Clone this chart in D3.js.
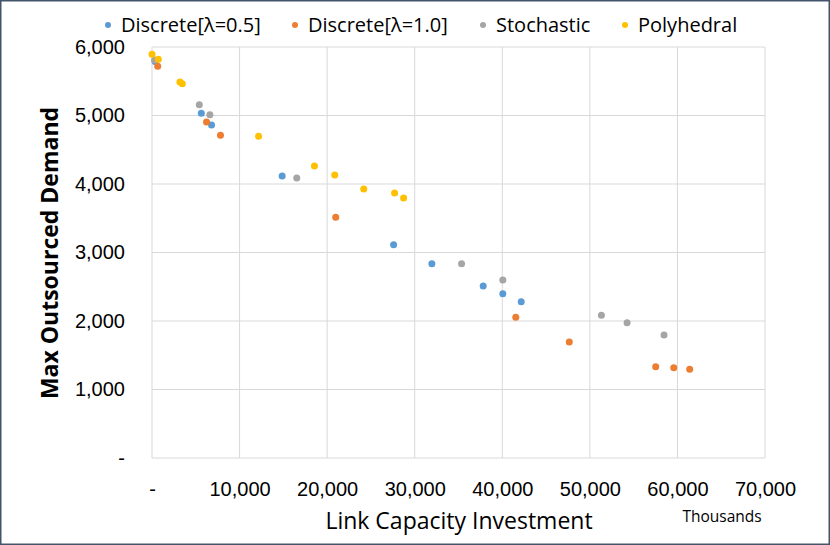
<!DOCTYPE html>
<html>
<head>
<meta charset="utf-8">
<script src="https://cdn.jsdelivr.net/npm/d3@7"></script>
<style>
  html, body { margin: 0; padding: 0; background: #fff; }
  svg { display: block; font-family: "Open Sans", sans-serif; }
</style>
</head>
<body>
<script>
// series values (x in thousands)
var seriesNames = ['Discrete[\u03bb=0.5]', 'Discrete[\u03bb=1.0]', 'Stochastic', 'Polyhedral'];
var seriesColors = ['#5B9BD5', '#ED7D31', '#A5A5A5', '#FFC000'];

var discrete05X = [350, 5630, 6800, 14860, 27590, 31960, 37820, 40060, 42160];
var discrete05Y = [5790, 5032, 4861, 4117, 3114, 2837, 2511, 2399, 2282];

var discrete10X = [650, 6230, 7820, 20980, 41540, 47650, 57520, 59580, 61400];
var discrete10Y = [5718, 4905, 4711, 3514, 2054, 1693, 1333, 1318, 1295];

var stochasticX = [300, 5400, 6610, 16530, 35350, 40060, 51320, 54250, 58470];
var stochasticY = [5810, 5158, 5012, 4088, 2837, 2599, 2083, 1975, 1796];

var polyhedralX = [0, 720, 3190, 3460, 12170, 18550, 20870, 24180, 27700, 28730];
var polyhedralY = [5894, 5820, 5489, 5464, 4696, 4263, 4131, 3927, 3869, 3796];

var xTicks = [0, 10000, 20000, 30000, 40000, 50000, 60000, 70000];
var yTicks = [0, 1000, 2000, 3000, 4000, 5000, 6000];

var W = 830, H = 545;
var plotL = 152, plotR = 765, plotT = 47, plotB = 458;

var svg = d3.select('body').append('svg')
    .attr('width', W)
    .attr('height', H);

svg.append('rect')
    .attr('x', 0.75).attr('y', 0.75)
    .attr('width', W - 1.5).attr('height', H - 1.5)
    .attr('fill', '#fff')
    .attr('stroke', '#44546A')
    .attr('stroke-width', 1.5);

var x = d3.scaleLinear().domain([0, 70000]).range([plotL, plotR]);
var y = d3.scaleLinear().domain([0, 6000]).range([plotB, plotT]);

var fmt = function(d){ return d === 0 ? '-' : d3.format(',')(d); };

// gridlines
var grid = svg.append('g');
grid.selectAll('.vg')
    .data(xTicks)
    .enter()
    .append('line')
    .attr('x1', function(d){ return x(d); })
    .attr('x2', function(d){ return x(d); })
    .attr('y1', plotT)
    .attr('y2', plotB)
    .attr('stroke', '#D9D9D9')
    .attr('stroke-width', 1);
grid.selectAll('.hg')
    .data(yTicks)
    .enter()
    .append('line')
    .attr('x1', plotL)
    .attr('x2', plotR)
    .attr('y1', function(d){ return y(d); })
    .attr('y2', function(d){ return y(d); })
    .attr('stroke', '#D9D9D9')
    .attr('stroke-width', 1);

// axes (labels only, Excel style)
var xAxis = svg.append('g')
    .attr('transform', 'translate(0,' + (plotB + 21) + ')')
    .call(d3.axisBottom(x).tickValues(xTicks).tickFormat(fmt).tickSize(0));
xAxis.select('.domain').remove();
xAxis.selectAll('text')
    .attr('font-size', 20)
    .attr('font-family', null)
    .attr('fill', '#000');

var yAxis = svg.append('g')
    .attr('transform', 'translate(' + (plotL - 24) + ',0)')
    .call(d3.axisLeft(y).tickValues(yTicks).tickFormat(fmt).tickSize(0));
yAxis.select('.domain').remove();
yAxis.selectAll('text')
    .attr('font-size', 20)
    .attr('font-family', null)
    .attr('fill', '#000');

// points
var allX = [discrete05X, discrete10X, stochasticX, polyhedralX];
var allY = [discrete05Y, discrete10Y, stochasticY, polyhedralY];
for (let s = 0; s < allX.length; s++) {
  var pts = allX[s].map(function(v, i){ return {x: v, y: allY[s][i]}; });
  svg.append('g').selectAll('circle')
      .data(pts)
      .enter()
      .append('circle')
      .attr('cx', function(d){ return x(d.x); })
      .attr('cy', function(d){ return y(d.y); })
      .attr('r', 3.5)
      .attr('fill', seriesColors[s]);
}

// legend
var legendX = [108, 295, 483, 625];
var legend = svg.append('g');
legend.selectAll('circle')
    .data(seriesNames)
    .enter()
    .append('circle')
    .attr('cx', function(d, i){ return legendX[i]; })
    .attr('cy', 25)
    .attr('r', 3)
    .attr('fill', function(d, i){ return seriesColors[i]; });
legend.selectAll('text')
    .data(seriesNames)
    .enter()
    .append('text')
    .attr('x', function(d, i){ return legendX[i] + 13; })
    .attr('y', 32)
    .attr('font-size', 20)
    .attr('fill', '#000')
    .text(function(d){ return d; });

// titles
svg.append('text')
    .attr('x', 459)
    .attr('y', 529)
    .attr('text-anchor', 'middle')
    .attr('font-size', 23)
    .attr('fill', '#000')
    .text('Link Capacity Investment');

svg.append('text')
    .attr('x', 722)
    .attr('y', 522)
    .attr('text-anchor', 'middle')
    .attr('font-size', 15.5)
    .attr('fill', '#000')
    .text('Thousands');

svg.append('text')
    .attr('transform', 'translate(58,253) rotate(-90)')
    .attr('text-anchor', 'middle')
    .attr('font-size', 23)
    .attr('font-weight', 'bold')
    .attr('fill', '#000')
    .text('Max Outsourced Demand');
</script>
</body>
</html>
